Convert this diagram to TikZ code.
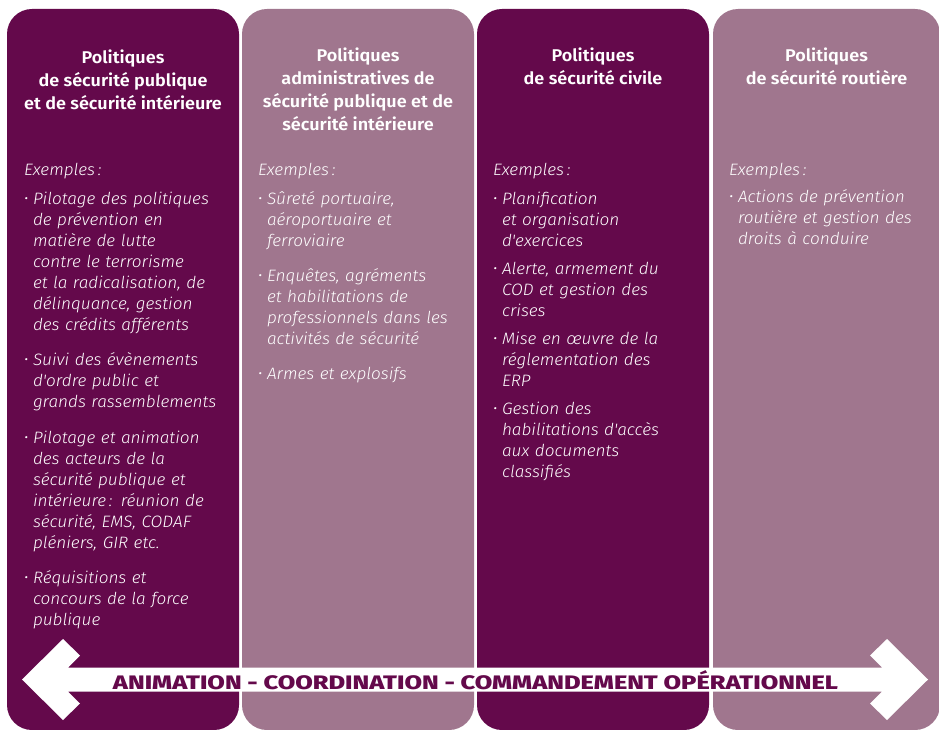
\documentclass[tikz,border=0pt]{standalone}
\usepackage{fontspec}
\usepackage{graphicx}
\setmainfont{Fira Sans}
\newfontfamily\corpsfont{Fira Sans}[UprightFont=* Light Italic, FakeStretch=1.04]
\newfontfamily\titrefont{Fira Sans}[UprightFont=* SemiBold, FakeStretch=1.06]
\newfontfamily\bandeaufont{Fira Sans}[UprightFont=* ExtraBold]
\definecolor{prune}{RGB}{100,9,75}
\definecolor{mauve}{RGB}{160,118,142}
\newcommand{\Exemples}{Exemples\,:}
\newcommand{\Puce}[2][13pt]{\par\vspace{#1}\noindent\strut\makebox[9pt][l]{\raisebox{1pt}{\scalebox{0.85}{\textbullet}}}\parbox[t]{205pt}{#2\strut}}

\tikzset{
  colonne/.style={rounded corners=25pt, minimum width=232pt, minimum height=721pt, inner sep=0pt},
  titre/.style={anchor=north, align=center, text=white, inner sep=0pt, font=\titrefont\fontsize{17}{23}\selectfont},
  corps/.style={anchor=north west, text width=215pt, align=left, text=white, inner sep=0pt, font=\corpsfont\fontsize{16.5}{21}\selectfont},
  bandeau/.style={text=prune, inner sep=0pt, font=\bandeaufont\fontsize{19.5}{19.5}\selectfont}
}

\begin{document}
\begin{tikzpicture}[x=1pt, y=-1pt]
\useasboundingbox (0,0) rectangle (939,730);

\node[colonne, fill=prune] (c1) at (123,369.5) {};
\node[colonne, fill=mauve] (c2) at (358,369.5) {};
\node[colonne, fill=prune] (c3) at (593,369.5) {};
\node[colonne, fill=mauve, minimum width=227pt] (c4) at (826.5,369.5) {};

\node[titre] (t1) at ([yshift=-41pt]c1.north) {Politiques\\de sécurité publique\\et de sécurité intérieure};
\node[titre] (t2) at ([yshift=-39pt]c2.north) {Politiques\\administratives de\\sécurité publique et de\\sécurité intérieure};
\node[titre] (t3) at ([yshift=-39pt]c3.north) {Politiques\\de sécurité civile};
\node[titre] (t4) at ([yshift=-39pt]c4.north) {Politiques\\de sécurité routière};

\node[corps] (b1) at ([xshift=17pt, yshift=-154pt]c1.north west) {\Exemples
  \Puce[8.5pt]{Pilotage des politiques\\de prévention en\\matière de lutte\\contre le terrorisme\\et la radicalisation, de\\délinquance, gestion\\des crédits afférents}
  \Puce{Suivi des évènements\\d'ordre public et\\grands rassemblements}
  \Puce[14pt]{Pilotage et animation\\des acteurs de la\\sécurité publique et\\intérieure\,: réunion de\\sécurité, EMS, CODAF\\pléniers, GIR etc.}
  \Puce{Réquisitions et\\concours de la force\\publique}};
\node[corps] (b2) at ([xshift=16pt, yshift=-154pt]c2.north west) {\Exemples
  \Puce[8.5pt]{Sûreté portuaire,\\aéroportuaire et\\ferroviaire}
  \Puce{Enquêtes, agréments\\et habilitations de\\professionnels dans les\\activités de sécurité}
  \Puce{Armes et explosifs}};
\node[corps] (b3) at ([xshift=16pt, yshift=-154pt]c3.north west) {\Exemples
  \Puce[8.5pt]{Planification\\et organisation\\d'exercices}
  \Puce[6pt]{Alerte, armement du\\COD et gestion des\\crises}
  \Puce[6pt]{Mise en œuvre de la\\réglementation des\\ERP}
  \Puce[6pt]{Gestion des\\habilitations d'accès\\aux documents\\classifiés}};
\node[corps] (b4) at ([xshift=16pt, yshift=-154pt]c4.north west) {\Exemples
  \Puce[6.5pt]{Actions de prévention\\routière et gestion des\\droits à conduire}};

% double fleche
\coordinate (pg) at (22,679.5);
\coordinate (pd) at (928,679.5);
\fill[white] (pg) -- (63,639) -- (80,655.5) -- (68,667.5) -- (882,667.5) -- (870,655.5) -- (887,639)
  -- (pd) -- (887,720) -- (870,703.5) -- (882,691.5) -- (68,691.5) -- (80,703.5) -- (63,720) -- cycle;
\node[bandeau] (lbl) at (475.5,680) {\resizebox{725pt}{\height}{ANIMATION - COORDINATION - COMMANDEMENT OPÉRATIONNEL}};
\end{tikzpicture}
\end{document}
